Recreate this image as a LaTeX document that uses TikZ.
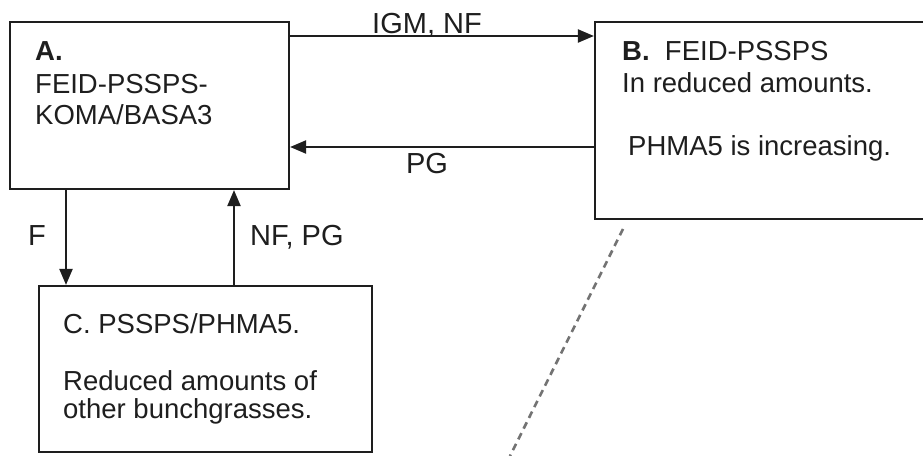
\documentclass[tikz,border=0pt]{standalone}
\usepackage{fontspec}
\setmainfont{Liberation Sans}
\usetikzlibrary{arrows.meta}
\definecolor{ink}{HTML}{1E1E1E}
\tikzset{
  boxnode/.style={draw=ink, line width=2.2pt, rectangle, inner sep=0pt},
  txt/.style={anchor=base west, inner sep=0pt, text=ink, font=\fontsize{27.5}{32}\selectfont},
  lbl/.style={inner sep=0pt, text=ink, font=\fontsize{29}{34}\selectfont},
  arr/.style={draw=ink, line width=2.2pt, -{Triangle[length=16pt,width=13pt]}},
  dashline/.style={draw=black!55, line width=2.6pt, dash pattern=on 7pt off 5pt}
}
\begin{document}
\begin{tikzpicture}[x=1pt,y=-1pt]
\useasboundingbox (0,0) rectangle (923,455);
\clip (0,0) rectangle (923,455);
\fill[white] (0,0) rectangle (923,455);
% boxes
\node[boxnode, minimum width=279pt, minimum height=167pt] (A) at (149.5,105.5) {};
\node[boxnode, minimum width=345pt, minimum height=197pt] (B) at (767.5,120.5) {};
\node[boxnode, minimum width=333pt, minimum height=166pt] (C) at (205.5,369) {};
% box texts
\node[txt] (ta1) at (35,60) {\textbf{A.}};
\node[txt] (ta2) at (35,93) {FEID-PSSPS-};
\node[txt] (ta3) at (35,124) {KOMA/BASA3};
\node[txt] (tb1) at (622,60) {\textbf{B.}\ \ FEID-PSSPS};
\node[txt] (tb2) at (622,92) {In reduced amounts.};
\node[txt] (tb3) at (628,155) {PHMA5 is increasing.};
\node[txt] (tc1) at (63,333) {C. PSSPS/PHMA5.};
\node[txt] (tc2) at (63,390) {Reduced amounts of};
\node[txt] (tc3) at (63,418) {other bunchgrasses.};
% connector helper coordinates
\coordinate (h1) at (0,36);
\coordinate (h2) at (0,147);
\coordinate (vf) at (66,0);
\coordinate (vg) at (234,0);
\draw[arr] (h1 -| A.east) -- (h1 -| B.west);
\draw[arr] (h2 -| B.west) -- (h2 -| A.east);
\draw[arr] (vf |- A.south) -- (vf |- C.north);
\draw[arr] (vg |- C.north) -- (vg |- A.south);
% labels
\node[lbl, anchor=base] (l1) at (427,33) {IGM, NF};
\node[lbl, anchor=base] (l2) at (427,173) {PG};
\node[lbl, anchor=base west] (l3) at (28,245) {F};
\node[lbl, anchor=base west] (l4) at (250,245) {NF, PG};
% dashed line
\coordinate (d1) at (623,229);
\coordinate (d2) at (510,456);
\draw[dashline] (d1) -- (d2);
\end{tikzpicture}
\end{document}
